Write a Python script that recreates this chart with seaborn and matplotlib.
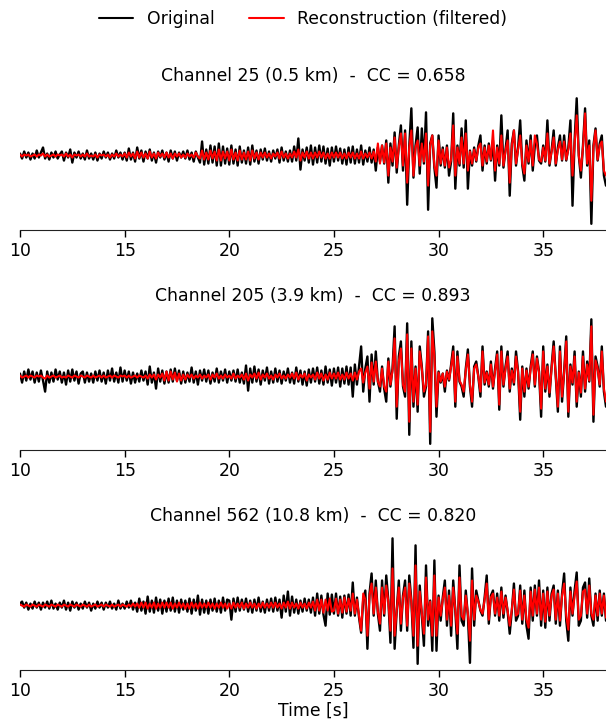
#!/usr/bin/env python

import matplotlib
matplotlib.use("Agg")
import matplotlib.pyplot as plt
from matplotlib.lines import Line2D
import seaborn as sns
import numpy as np

sns.set_style("ticks")
plt.rcParams['font.family'] = ['DejaVu Sans']
plt.rcParams['text.color'] = 'black'
plt.rcParams['axes.labelcolor'] = 'black'
plt.rcParams['xtick.color'] = 'black'

# traces sampled every 0.1 s from 10 s to 38 s, amplitudes read off the figure
# (arbitrary units, upward positive)

ch25_orig = [
    2, -3, 4, -2, 3, -4, 2, -3, 5, -2,
    3, 8, -3, 2, -4, 3, -2, 4, -3, 1,
    4, -5, 3, -2, 6, -7, 3, -2, 4, -3,
    2, -4, 5, -3, 2, -4, 3, -5, 2, -3,
    4, -2, 3, -4, 2, -3, 5, -2, 3, -4,
    3, -5, 7, -4, 3, -6, 8, -3, 5, -6,
    4, -3, 6, -5, 3, -7, 4, -2, 5, -4,
    3, -6, 5, -3, 4, -5, 3, -2, 4, -3,
    5, -4, 3, -6, 4, -2, -7, 14, -9, 6,
    -8, 10, -7, 9, -10, 12, -10, 9, -8, 7,
    -9, 10, -8, 6, -10, 9, -7, 5, -8, 8,
    -9, 10, -6, 5, -8, 6, -4, 7, -5, 4,
    -6, 5, -3, 6, -7, 8, -5, 4, -6, 5,
    -6, 9, -5, 17, -14, 6, -5, 8, -7, 10,
    -9, 8, -7, 10, -6, 9, -8, 7, -10, 8,
    -6, 9, -5, 7, -8, 6, -9, 8, -7, 9,
    -8, 6, -7, 10, -9, 5, -6, 8, -7, 6,
    -15, 8, -6, 10, -8, 15, -27, 12, -10, 23,
    -17, 10, 30, -15, 25, -49, 10, 47, -22, 10,
    28, -18, 27, -8, 43, -54, 12, 20, -12, -32,
    20, -10, 8, -12, 10, -20, -6, 42, -33, 10,
    -10, 27, -12, 35, -33, 5, -10, 8, -6, 10,
    20, -15, 10, -8, 12, -5, 15, -25, 10, -10,
    40, -12, 6, 25, -40, 12, 25, -10, 8, 35,
    -10, -25, 15, -8, 20, -15, 10, 20, -5, -8,
    10, -6, 35, -10, 5, 25, -10, 8, 20, -5,
    20, -5, 8, 35, -50, 15, 57, 0, -22, 10,
    47, -10, 15, -68, 10, 27, -5, 12, 20, -20,
    -30,
]

ch25_recon = [
    1, -1, 1, 0, 1, -1, 0, 1, -1, 1,
    0, 2, -1, 1, -1, 0, 1, -1, 1, 0,
    1, -1, 2, -1, 1, -2, 1, 0, 1, -1,
    1, -1, 2, -1, 0, -1, 1, -2, 1, 0,
    1, -1, 1, -2, 1, -1, 2, -1, 1, -1,
    2, -2, 3, -1, 2, -3, 4, -2, 3, -2,
    2, -3, 4, -2, 2, -3, 3, -1, 2, -2,
    3, -2, 2, -3, 2, -1, 2, -2, 1, -2,
    2, -1, 1, -2, 3, -1, -3, 5, -4, 3,
    -4, 5, -3, 4, -5, 6, -5, 4, -3, 4,
    -5, 6, -4, 3, -5, 5, -4, 3, -4, 4,
    -5, 5, -3, 3, -4, 3, -2, 3, -2, 2,
    -3, 2, -1, 3, -3, 4, -2, 2, -3, 2,
    -2, 4, -2, 6, -5, 3, -2, 4, -3, 3,
    -3, 3, -2, 4, -2, 3, -3, 2, -3, 3,
    -2, 3, -2, 3, -3, 2, -3, 3, -2, 3,
    -3, 2, -3, 4, -3, 2, -2, 3, -3, 4,
    -6, 12, -8, 10, -7, 12, -20, 8, -6, 18,
    -12, 8, 22, -10, 22, -27, 8, 25, -20, 8,
    15, -10, 12, -6, 22, -30, 10, 20, -10, -20,
    15, -8, 6, -10, 8, -12, -4, 30, -20, 8,
    -8, 18, -8, 22, -15, 4, -8, 6, -5, 8,
    12, -10, 8, -6, 10, -4, 25, -15, 8, -8,
    20, -10, 5, 15, -27, 10, 25, -8, 6, 20,
    -8, -18, 10, -6, 15, -10, 20, 12, -4, -6,
    8, -5, 22, -8, 4, 18, -8, 6, 14, -4,
    14, -4, 6, 22, -20, 12, 40, 0, -15, 8,
    42, -8, 10, -45, 8, 25, -4, 10, 14, -15,
    -20,
]

ch205_orig = [
    3, -6, 5, -4, 7, -3, 5, -6, 4, -5,
    6, -4, -15, 5, -6, 4, -5, 7, -3, 5,
    -6, 4, -8, 6, -5, 7, -4, 5, -7, 3,
    5, -6, 4, -5, 3, -6, 5, -4, 6, -5,
    4, -7, 6, -4, 8, -5, 4, -6, 9, -5,
    6, -4, 5, -7, 4, -6, 3, -5, 6, -4,
    5, -8, 10, -6, 4, -12, 8, -5, 6, -7,
    5, -6, 7, -5, 8, -4, 6, -7, 5, -6,
    4, -5, 9, -6, 5, -8, 6, -4, 7, -5,
    6, -7, 4, -5, 8, -6, 5, -4, 7, -6,
    5, -4, 6, -5, 7, -6, 4, -7, 11, -14,
    8, -6, 10, -5, 7, -8, 6, -4, 9, -7,
    5, -6, 8, -5, 6, -7, 5, -4, 8, -6,
    4, -7, 9, -5, 6, -8, 5, -9, 7, -6,
    8, -5, 9, -7, 6, -8, 10, -6, 7, -9,
    8, -6, 9, -10, 8, -7, 10, -8, 9, -20,
    12, -8, 10, 30, -15, 8, 20, -25, 22, -8,
    25, -5, -15, 10, -12, -25, 18, -10, 8, 50,
    -42, 20, 35, -10, -20, 53, -58, 35, -30, 10,
    -35, 30, 10, -20, -10, 45, -67, 58, 25, -40,
    5, -6, 3, -15, 6, -4, 12, 30, -30, 25,
    -5, -10, -20, 8, 27, -10, -30, 10, 15, 0,
    -20, 30, -8, 5, -10, 15, -12, 8, 25, -33,
    30, -10, 10, 25, -15, 8, -8, 25, 5, -43,
    10, -20, 8, -12, 10, 25, -10, 20, 5, -40,
    30, -15, 12, -20, 10, 35, 0, -35, 30, -25,
    5, 40, -40, 12, -8, 25, -30, 5, -20, 25,
    -15, 15, -5, 57, -45, 20, 10, -10, 30, -15,
    -30,
]

ch205_recon = [
    1, -1, 0, 1, -1, 1, 0, -1, 1, 0,
    1, -1, -2, 1, -1, 0, 1, -1, 0, 1,
    -1, 0, -1, 1, 0, -1, 1, 0, -1, 1,
    0, -1, 1, 0, -1, 1, -1, 0, 1, -1,
    1, -1, 0, 1, -1, 1, 0, -1, 1, 0,
    1, -1, 1, -1, 0, 1, -1, 1, 0, -1,
    1, -2, 2, -1, 2, -3, 2, -1, 3, -4,
    5, -4, 5, -3, 4, -5, 3, -4, 2, -3,
    2, -1, 2, -2, 1, -1, 2, -2, 1, -1,
    2, -3, 2, -1, 3, -2, 1, -2, 2, -1,
    1, -2, 3, -2, 1, -1, 2, -3, 3, -4,
    2, -1, 3, -2, 4, -3, 2, -1, 3, -2,
    1, -3, 2, -1, 3, -2, 1, -2, 2, -1,
    3, -2, 4, -3, 2, -1, 3, -4, 2, -1,
    2, -3, 4, -2, 3, -4, 2, -3, 4, -2,
    3, -2, 4, -3, 2, -3, 4, -2, 3, -4,
    4, -3, 5, 8, -6, 4, 10, -12, 14, -5,
    15, -5, -10, 8, -10, -15, 15, -8, 6, 38,
    -30, 15, 28, -8, -15, 42, -45, 28, -25, 8,
    -28, 25, 8, -15, -8, 40, -55, 45, 20, -30,
    4, -5, 3, -10, 5, -3, 10, 25, -25, 20,
    -4, -8, -15, 6, 22, -8, -25, 8, 12, 0,
    -15, 25, -6, 4, -8, 12, -10, 6, 22, -28,
    25, -8, 8, 20, -12, 6, -6, 20, 4, -35,
    8, -15, 6, -10, 8, 22, -8, 18, 4, -32,
    25, -12, 10, -16, 8, 30, 0, -30, 25, -20,
    4, 35, -35, 10, -6, 20, -25, 4, -16, 20,
    -12, 12, -4, 50, -38, 16, 8, -8, 25, -12,
    -25,
]

ch562_orig = [
    2, 4, -2, 3, -4, 2, -3, 4, -2, 3,
    -4, 3, -2, 4, -3, 5, -3, 2, -4, 3,
    -2, 5, -4, 3, -5, 4, -2, 3, -4, 2,
    -3, 4, -2, 3, -5, 2, -3, 4, -2, 3,
    -4, 3, -2, 4, -3, 2, -4, 5, -3, 2,
    -3, 4, -2, 5, -4, 3, -6, 7, -5, 4,
    -8, 9, -6, 5, -7, 8, -5, 6, -8, 5,
    -6, 7, -5, 8, -6, 5, -7, 6, -4, 5,
    -6, 7, -8, 6, -5, 10, -9, 6, -7, 5,
    -8, 6, -5, 7, -6, 5, -7, 8, -5, 6,
    5, -14, 7, -6, 8, -5, 6, -4, 7, -6,
    5, -7, 6, -5, 8, -6, 4, -7, 6, -5,
    7, -6, 8, -5, 6, -12, 10, -6, 14, -10,
    9, -7, 6, -8, 5, -6, 7, -5, 6, -7,
    8, -10, 12, -8, 10, -9, -20, 12, -9, 11,
    -8, 12, -10, 9, -12, 10, -8, 11, -10, 23,
    -10, 8, -12, -27, 6, 15, -43, 12, 32, -10,
    25, -8, -25, 25, -10, 30, 5, -37, 67, -43,
    -5, 25, -25, 10, 25, -25, 30, 5, -42, 60,
    -58, 20, -10, -40, 40, -20, 5, -45, 45, -45,
    10, -15, 8, 25, -20, 15, -30, 25, -5, -43,
    40, -15, -20, 15, -10, -57, 37, -20, 15, 5,
    -5, -10, 8, 30, -18, 10, 15, -10, 12, -15,
    18, -12, 10, -6, -28, -5, 22, -15, -10, 20,
    -18, 15, -20, -33, 18, -15, 20, -10, 25, -20,
    15, -22, 18, -15, 12, 20, -18, 15, -20, 12,
    32, -15, -35, 18, -10, 15, 33, -20, -15, 18,
    23, -12, 27, -10, -20, 12, -15, 15, -10, 12,
    -15,
]

ch562_recon = [
    1, 0, -1, 1, 0, -1, 1, 0, -1, 1,
    0, -1, 1, 0, -1, 1, 0, -1, 1, 0,
    -1, 1, 0, -1, 1, 0, -1, 1, 0, -1,
    1, 0, -1, 1, -1, 0, 1, -1, 0, 1,
    -1, 1, 0, -1, 1, -1, 0, 1, -1, 1,
    0, -1, 1, -1, 2, -1, 2, -2, 3, -2,
    3, -3, 2, -2, 3, -3, 2, -2, 3, -2,
    3, -2, 3, -3, 2, -2, 3, -2, 2, -3,
    2, -3, 3, -2, 2, -3, 3, -2, 2, -2,
    3, -2, 2, -3, 2, -2, 3, -2, 2, -3,
    2, -3, 3, -2, 2, -2, 3, -3, 2, -2,
    3, -2, 2, -3, 2, -2, 3, -2, 2, -2,
    3, -2, 3, -2, 2, -3, 3, -2, 4, -3,
    3, -2, 2, -3, 3, -2, 2, -3, 3, -2,
    4, -5, 6, -5, 6, -7, 6, -5, 7, -6,
    -5, 7, -8, 6, -7, 8, -6, 7, -5, 12,
    -8, 6, -10, -25, 12, 6, -30, 10, 22, -8,
    18, -6, -18, 18, -8, 20, 4, -25, 37, -30,
    -4, 18, -18, 8, 18, -20, 22, 4, -30, 40,
    -40, 14, -8, -28, 28, -14, 4, -30, 30, -30,
    8, -10, 6, 18, -14, 10, -20, 18, -4, -28,
    28, -10, -14, 10, -8, -35, 25, -14, 10, 4,
    -4, -8, 6, 22, -14, 8, 12, -8, 8, -10,
    14, -8, 8, -5, -20, -4, 16, -10, -8, 15,
    -14, 10, -14, -22, 14, -10, 16, -8, 18, -14,
    12, -16, 14, -10, 10, 16, -14, 12, -15, 10,
    22, -10, -24, 14, -8, 10, 24, -14, -10, 14,
    16, -8, 20, -8, -14, 10, -10, 12, -8, 10,
    -12,
]

titles = [
    "Channel 25 (0.5 km)  -  CC = 0.658",
    "Channel 205 (3.9 km)  -  CC = 0.893",
    "Channel 562 (10.8 km)  -  CC = 0.820",
]
xticks = [10, 15, 20, 25, 30, 35]
t_start, dt = 10.0, 0.1
fs = 12.4


def trace_plot(ax, orig, recon, title):
    t = t_start + dt * np.arange(len(orig))
    sns.lineplot(x=t, y=orig, color="k", lw=1.7, ax=ax)
    sns.lineplot(x=t, y=recon, color="red", lw=1.5, ax=ax)
    ax.set_xlim(10, 38)
    ax.set_xticks(xticks)
    ax.set_yticks([])
    ax.set_title(title, fontsize=fs, pad=8, color="black")
    ax.tick_params(axis="x", labelsize=fs, length=5, width=1, colors="black")
    sns.despine(ax=ax, left=True)
    ax.spines["bottom"].set_color("#222222")


def main():
    fig = plt.figure(figsize=(6.06, 7.19), dpi=100)
    bottoms = [0.680, 0.374, 0.068]
    data = [(ch25_orig, ch25_recon), (ch205_orig, ch205_recon), (ch562_orig, ch562_recon)]
    axes = []
    for b, (o, r), title in zip(bottoms, data, titles):
        ax = fig.add_axes([0.033, b, 0.967, 0.192])
        trace_plot(ax, o, r, title)
        axes.append(ax)
    axes[-1].set_xlabel("Time [s]", fontsize=fs, labelpad=1)

    handles = [Line2D([], [], color="k", lw=1.5), Line2D([], [], color="red", lw=1.5)]
    fig.legend(handles, ["Original", "Reconstruction (filtered)"], loc="upper center",
               bbox_to_anchor=(0.5, 1.0), ncol=2, frameon=False, fontsize=fs,
               borderaxespad=0.2)

    fig.savefig("out.png", dpi=100)


if __name__ == "__main__":
    main()
